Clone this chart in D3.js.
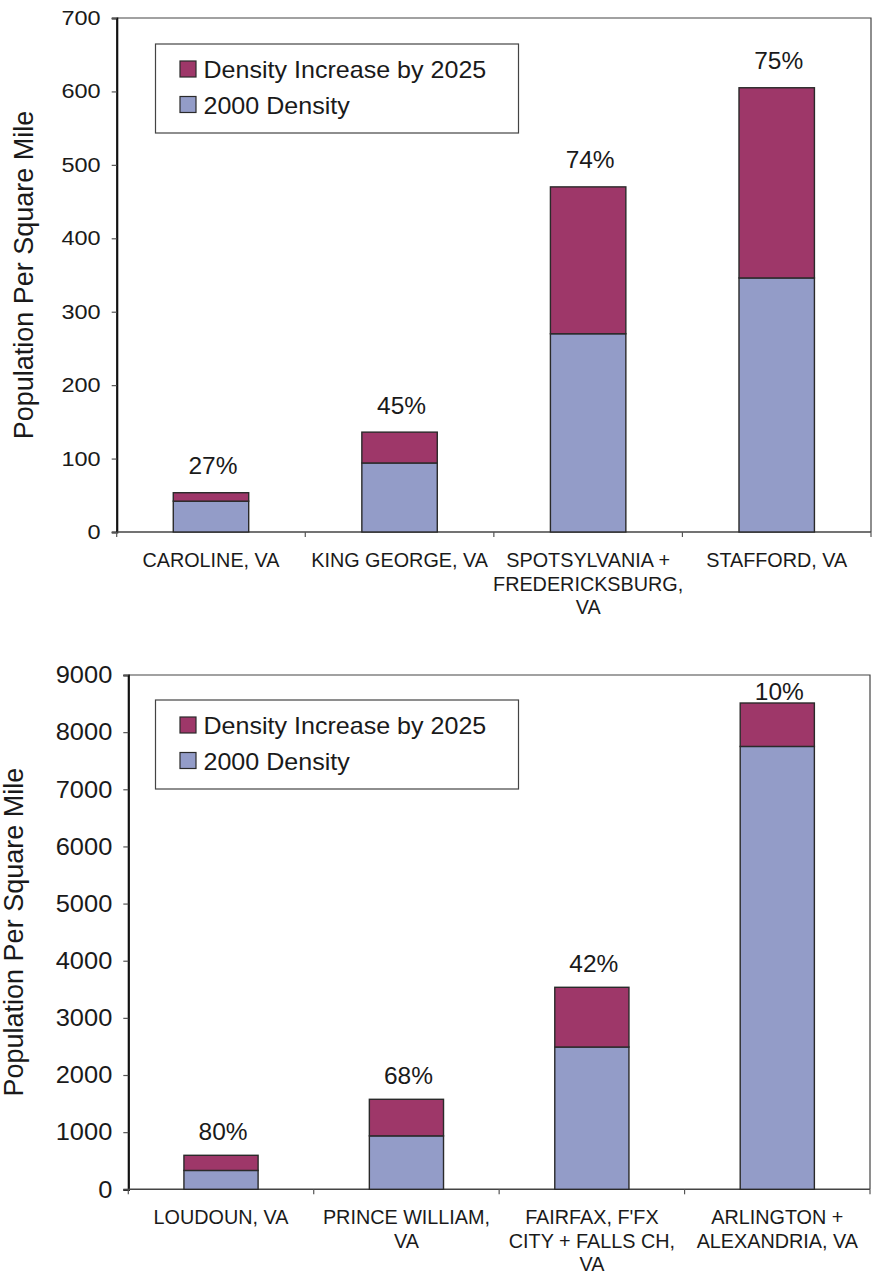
<!DOCTYPE html>
<html>
<head>
<meta charset="utf-8">
<script src="https://cdn.jsdelivr.net/npm/d3@7"></script>
<style>
  html, body { margin: 0; padding: 0; background: #fff; }
  svg { display: block; font-family: "Liberation Sans", Arial, Helvetica, sans-serif; }
</style>
</head>
<body>
<svg id="chart" width="877" height="1285"></svg>
<script>
// Population density by locality, 2000 and projected increase to 2025
const seriesNames = ["Density Increase by 2025", "2000 Density"];
const seriesColors = ["#9e3769", "#939cc8"];

const outerCategories = [
  ["CAROLINE, VA"],
  ["KING GEORGE, VA"],
  ["SPOTSYLVANIA +", "FREDERICKSBURG,", "VA"],
  ["STAFFORD, VA"]
];
const outerDensity2000 = [42, 94, 270, 346];
const outerIncrease2025 = [11.5, 42, 200, 259];
const outerTicks = [0, 100, 200, 300, 400, 500, 600, 700];

const innerCategories = [
  ["LOUDOUN, VA"],
  ["PRINCE WILLIAM,", "VA"],
  ["FAIRFAX, F'FX", "CITY + FALLS CH,", "VA"],
  ["ARLINGTON +", "ALEXANDRIA, VA"]
];
const innerDensity2000 = [330, 935, 2490, 7750];
const innerIncrease2025 = [265, 640, 1045, 760];
const innerTicks = [0, 1000, 2000, 3000, 4000, 5000, 6000, 7000, 8000, 9000];

const yTitle = "Population Per Square Mile";
const svg = d3.select("#chart");
const pct = d3.format(".0%");

function stretchedText(g, x, y, str, size, sx, anchor) {
  return g.append("text")
    .attr("transform", `translate(${x},${y}) scale(${sx},1)`)
    .attr("text-anchor", anchor)
    .attr("font-size", size)
    .attr("fill", "#1a1a1a")
    .text(str);
}

function drawPanel(opt) {
  const { left, right, top, bottom, categories, base, inc, ticks, tickSize, tickSx, titleX, legend } = opt;
  const g = svg.append("g");

  const y = d3.scaleLinear().domain([ticks[0], ticks[ticks.length - 1]]).range([bottom, top]);
  const x = d3.scaleBand().domain(d3.range(categories.length)).range([left, right]).padding(0);
  const barW = x.bandwidth() * 0.4;

  // plot frame (top and right edges)
  g.append("path")
    .attr("d", `M${left},${top}H${right}V${bottom}`)
    .attr("fill", "none").attr("stroke", "#444").attr("stroke-width", 1.2);

  // y axis
  const yAxis = d3.axisLeft(y).tickValues(ticks).tickSize(5).tickFormat("");
  const ya = g.append("g").attr("transform", `translate(${left},0)`).call(yAxis);
  ya.select(".domain").attr("stroke", "#111").attr("stroke-width", 2.2);
  ya.selectAll(".tick line").attr("stroke", "#555").attr("stroke-width", 1.2);
  ticks.forEach(t => {
    stretchedText(g, left - 16, y(t), d3.format("d")(t), tickSize, tickSx, "end")
      .attr("dominant-baseline", "central");
  });

  // x axis with ticks at category boundaries
  const bounds = d3.range(categories.length + 1).map(i => left + i * x.bandwidth());
  g.append("line")
    .attr("x1", left).attr("x2", right).attr("y1", bottom).attr("y2", bottom)
    .attr("stroke", "#444").attr("stroke-width", 1.6);
  g.selectAll(".xtick").data(bounds).join("line")
    .attr("x1", d => d).attr("x2", d => d)
    .attr("y1", bottom).attr("y2", bottom + 5)
    .attr("stroke", "#555").attr("stroke-width", 1.2);

  // category labels
  categories.forEach((lines, i) => {
    const cx = x(i) + x.bandwidth() / 2;
    lines.forEach((ln, j) => {
      stretchedText(g, cx, bottom + 35 + j * 23.5, ln, 19.8, 1, "middle");
    });
  });

  // stacked bars
  const rows = base.map((b, i) => ({ i, b, t: b + inc[i] }));
  const bars = g.selectAll(".bar").data(rows).join("g");
  bars.append("rect")
    .attr("x", d => x(d.i) + (x.bandwidth() - barW) / 2)
    .attr("width", barW)
    .attr("y", d => y(d.b))
    .attr("height", d => y(0) - y(d.b))
    .attr("fill", seriesColors[1]).attr("stroke", "#2a2a2a").attr("stroke-width", 1.4);
  bars.append("rect")
    .attr("x", d => x(d.i) + (x.bandwidth() - barW) / 2)
    .attr("width", barW)
    .attr("y", d => y(d.t))
    .attr("height", d => y(d.b) - y(d.t))
    .attr("fill", seriesColors[0]).attr("stroke", "#2a2a2a").attr("stroke-width", 1.4);

  // percentage increase labels
  rows.forEach(d => {
    const by = Math.max(y(d.t) - opt.labelGap, top + 24.5);
    stretchedText(g, x(d.i) + x.bandwidth() / 2 + 2, by, pct(inc[d.i] / d.b), 24, 1.02, "middle");
  });

  // y axis title
  g.append("text")
    .attr("transform", `translate(${titleX},${(top + bottom) / 2}) rotate(-90)`)
    .attr("text-anchor", "middle")
    .attr("font-size", 27)
    .attr("fill", "#1a1a1a")
    .text(yTitle);

  // legend
  const lg = g.append("g");
  lg.append("rect")
    .attr("x", legend.x).attr("y", legend.y).attr("width", 363).attr("height", 89)
    .attr("fill", "#fff").attr("stroke", "#444").attr("stroke-width", 1.2);
  seriesNames.forEach((name, k) => {
    const ry = legend.y + 17 + k * 35.5;
    lg.append("rect")
      .attr("x", legend.x + 24.5).attr("y", ry).attr("width", 16).attr("height", 16)
      .attr("fill", seriesColors[k]).attr("stroke", "#2a2a2a").attr("stroke-width", 1.2);
    stretchedText(lg, legend.x + 48, ry + 17, name, 23, 1.09, "start");
  });
}

drawPanel({
  left: 116.7, right: 871, top: 18, bottom: 532,
  categories: outerCategories, base: outerDensity2000, inc: outerIncrease2025,
  ticks: outerTicks, tickSize: 21, tickSx: 1.12, titleX: 33, labelGap: 18.5,
  legend: { x: 155.5, y: 44 }
});

drawPanel({
  left: 128.3, right: 870, top: 675, bottom: 1189.3,
  categories: innerCategories, base: innerDensity2000, inc: innerIncrease2025,
  ticks: innerTicks, tickSize: 24, tickSx: 1.06, titleX: 23, labelGap: 15.3,
  legend: { x: 155.5, y: 700 }
});
</script>
</body>
</html>
